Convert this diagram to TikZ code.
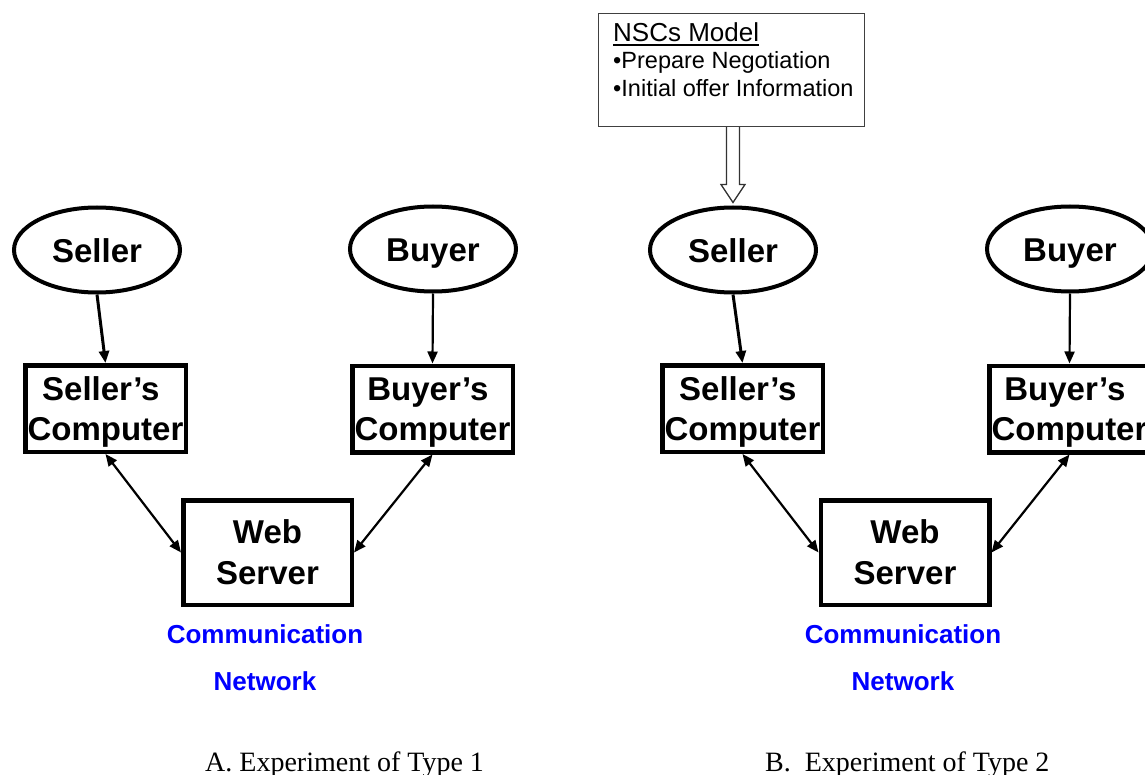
\documentclass[tikz,border=0pt]{standalone}
\usepackage{fontspec}
\setmainfont{Liberation Serif}
\newfontfamily\arialfont{Liberation Sans}
\usetikzlibrary{shapes.geometric,arrows.meta,calc}
\definecolor{netblue}{RGB}{0,0,255}
\tikzset{
  party/.style={ellipse, draw, line width=4pt, minimum width=166pt, minimum height=85pt,
    inner sep=0pt, text height=30pt, text depth=4pt,
    font=\arialfont\bfseries\fontsize{33}{40}\selectfont},
  pcbox/.style={rectangle, draw, line width=4.5pt, minimum width=160.5pt, minimum height=86.5pt,
    inner sep=0pt, align=center, font=\arialfont\bfseries\fontsize{33}{40}\selectfont},
  serverbox/.style={rectangle, draw, line width=4.5pt, minimum width=168.5pt, minimum height=104.5pt,
    inner sep=0pt, align=center, font=\arialfont\bfseries\fontsize{33}{41}\selectfont},
  nettext/.style={text=netblue, inner sep=0pt, anchor=base,
    font=\arialfont\bfseries\fontsize{26}{31}\selectfont},
  capt/.style={inner sep=0pt, anchor=base west, font=\fontsize{28}{34}\selectfont},
  notebox/.style={rectangle, draw=black!75, line width=1.3pt, minimum width=265.5pt,
    minimum height=112.5pt, inner sep=0pt},
  notetext/.style={inner sep=0pt, anchor=base west, font=\arialfont\fontsize{23.5}{28}\selectfont},
  flow/.style={line width=2.2pt, -{Triangle[length=12pt,width=10pt]}},
  link/.style={line width=2.2pt, {Triangle[length=12pt,width=10pt]}-{Triangle[length=12pt,width=10pt]}},
  hollow/.style={draw=black!80, line width=1.3pt, line join=miter},
}
\newcommand{\twoline}[2]{\rule{0pt}{30pt}#1\kern0.28em\\#2}
\begin{document}
\begin{tikzpicture}[x=1pt,y=-1pt]
  \useasboundingbox (0,0) rectangle (1145,775);
  \clip (0,0) rectangle (1145,775);

  % ---- Type 1 ----
  \node[party] (sellerA) at (97,250) {Seller};
  \node[party] (buyerA) at (433,249) {Buyer};
  \node[pcbox] (sellcompA) at (105.5,408.5) {\twoline{Seller’s}{Computer}};
  \node[pcbox] (buycompA) at (432.5,409) {\twoline{Buyer’s}{Computer}};
  \node[serverbox] (webA) at (267.5,552.5) {Web\\Server};
  \node[nettext] (commA) at (265,643) {Communication};
  \node[nettext] (netA) at (265,690) {Network};
  \node[capt] (captA) at (205,771) {A. Experiment of Type 1};

  \draw[flow, line width=3pt] (sellerA.south) -- (sellcompA.north);
  \draw[flow] (buyerA.south) -- (buycompA.north);
  \draw[link] (sellcompA.south) -- (webA.west);
  \draw[link] (buycompA.south) -- (webA.east);

  % ---- Type 2 ----
  \node[notebox] (nscbox) at (731.5,70) {};
  \node[notetext, font=\arialfont\fontsize{26}{30}\selectfont] (nsctitle) at (613,42) {NSCs Model};
  \node[notetext] (nscitemA) at (613,69) {•Prepare Negotiation};
  \node[notetext] (nscitemB) at (613,97) {•Initial offer Information};
  \draw[line width=1.5pt] ([yshift=-3pt]nsctitle.base west) -- ([yshift=-3pt]nsctitle.base east);

  \node[party] (sellerB) at (733,250) {Seller};
  \node[party] (buyerB) at (1070,249) {Buyer};
  \node[pcbox] (sellcompB) at (742.5,408.5) {\twoline{Seller’s}{Computer}};
  \node[pcbox] (buycompB) at (1069.5,409) {\twoline{Buyer’s}{Computer}};
  \node[serverbox] (webB) at (905,552.5) {Web\\Server};
  \node[nettext] (commB) at (903,643) {Communication};
  \node[nettext] (netB) at (903,690) {Network};
  \node[capt] (captB) at (765,771) {B.\ \ Experiment of Type 2};

  % hollow arrow from the model box down to the seller
  \draw[hollow] let \p1=(sellerB.north), \p2=(nscbox.south) in
    (\x1-6.5pt,\y2) -- (\x1-6.5pt,\y1+21pt) -- (\x1-12pt,\y1+21pt) -- (\x1,\y1+3pt)
    -- (\x1+12pt,\y1+21pt) -- (\x1+6.5pt,\y1+21pt) -- (\x1+6.5pt,\y2);

  \draw[flow, line width=3pt] (sellerB.south) -- (sellcompB.north);
  \draw[flow] (buyerB.south) -- (buycompB.north);
  \draw[link] (sellcompB.south) -- (webB.west);
  \draw[link] (buycompB.south) -- (webB.east);
\end{tikzpicture}
\end{document}
